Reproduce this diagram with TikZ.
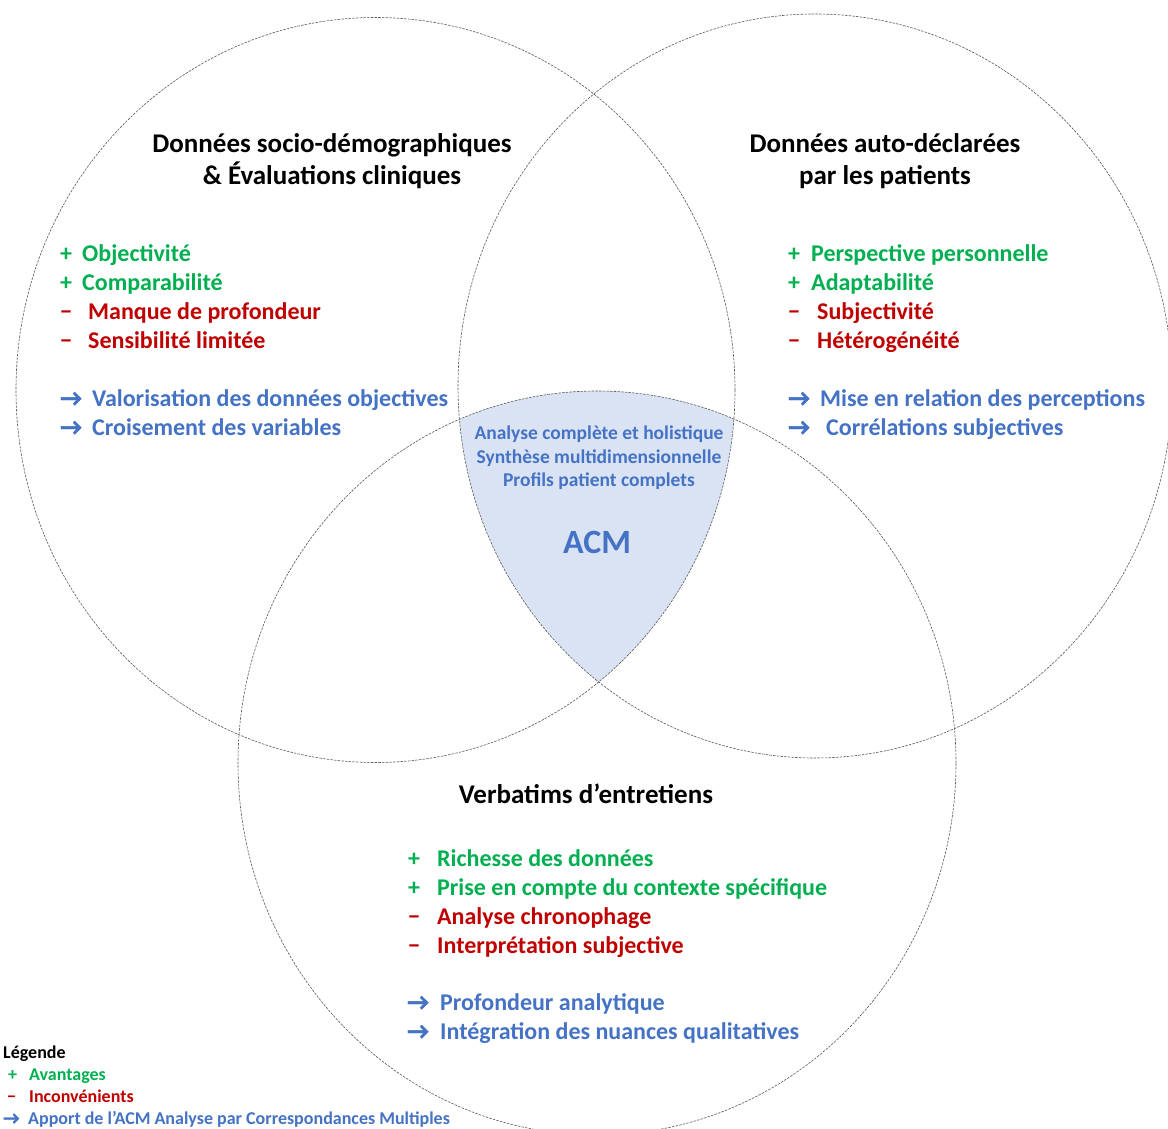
\documentclass[tikz,border=0pt]{standalone}
\usepackage{fontspec}
\setmainfont{Carlito}
\newfontfamily\arrowfont{Carlito}[FakeBold=1.6]
\newcommand{\rarr}{{\arrowfont\bfseries →}}
\newcommand{\mns}{−}
\definecolor{pgreen}{RGB}{0,176,80}
\definecolor{pred}{RGB}{192,0,0}
\definecolor{pblue}{RGB}{68,114,196}
\definecolor{acmfill}{RGB}{218,227,243}
\tikzset{
  ring/.style={draw=black!65, line width=0.6pt, dash pattern=on 2.5pt off 1.2pt},
  head/.style={font=\bfseries\fontsize{27}{32}\selectfont, text=black, anchor=base, inner sep=0pt},
  item/.style={font=\bfseries\fontsize{24}{29}\selectfont, anchor=base west, inner sep=0pt},
  pro/.style={item, text=pgreen},
  con/.style={item, text=pred},
  gain/.style={item, text=pblue},
  ctr/.style={font=\bfseries\fontsize{19.5}{24}\selectfont, text=pblue, anchor=base, inner sep=0pt},
  big/.style={font=\bfseries\fontsize{34}{40}\selectfont, text=pblue, anchor=base, inner sep=0pt},
  leg/.style={font=\bfseries\fontsize{18}{22}\selectfont, anchor=base west, inner sep=0pt},
}
\begin{document}
\begin{tikzpicture}[x=1pt,y=-1pt]
\useasboundingbox (0,0) rectangle (1168,1129);
\fill[white] (0,0) rectangle (1168,1129);
% shaded triple intersection
\begin{scope}
  \clip (375.5,390) ellipse [x radius=359.5pt, y radius=372.5pt];
  \clip (815,386) ellipse [x radius=357pt, y radius=372pt];
  \fill[acmfill] (597,763) ellipse [x radius=359pt, y radius=372pt];
\end{scope}
% ellipses
\draw[ring] (375.5,390) ellipse [x radius=359.5pt, y radius=372.5pt];
\draw[ring] (815,386) ellipse [x radius=357pt, y radius=372pt];
\draw[ring] (597,763) ellipse [x radius=359pt, y radius=372pt];

% left set
\node[head] (lh1) at (332,153) {Données socio-démographiques};
\node[head] (lh2) at (332,185) {\& Évaluations cliniques};
\node[pro] (lp1s) at (60,261) {+};
\node[pro] (lp1) at (82,261) {Objectivité};
\node[pro] (lp2s) at (60,290) {+};
\node[pro] (lp2) at (82,290) {Comparabilité};
\node[con] (lc1s) at (60,319) {\mns};
\node[con] (lc1) at (88,319) {Manque de profondeur};
\node[con] (lc2s) at (60,348) {\mns};
\node[con] (lc2) at (88,348) {Sensibilité limitée};
\node[gain] (la1s) at (60,406) {\rarr};
\node[gain] (la1) at (92,406) {Valorisation des données objectives};
\node[gain] (la2s) at (60,435) {\rarr};
\node[gain] (la2) at (92,435) {Croisement des variables};

% right set
\node[head] (rh1) at (885,153) {Données auto-déclarées};
\node[head] (rh2) at (885,185) {par les patients};
\node[pro] (rp1s) at (788,261) {+};
\node[pro] (rp1) at (811,261) {Perspective personnelle};
\node[pro] (rp2s) at (788,290) {+};
\node[pro] (rp2) at (811,290) {Adaptabilité};
\node[con] (rc1s) at (788,319) {\mns};
\node[con] (rc1) at (817,319) {Subjectivité};
\node[con] (rc2s) at (788,348) {\mns};
\node[con] (rc2) at (817,348) {Hétérogénéité};
\node[gain] (ra1s) at (788,406) {\rarr};
\node[gain] (ra1) at (820,406) {Mise en relation des perceptions};
\node[gain] (ra2s) at (788,435) {\rarr};
\node[gain] (ra2) at (826,435) {Corrélations subjectives};

% centre
\node[ctr] (c1) at (599,439) {Analyse complète et holistique};
\node[ctr] (c2) at (599,463) {Synthèse multidimensionnelle};
\node[ctr] (c3) at (599,486) {Profils patient complets};
\node[big] (acm) at (597,553) {ACM};

% bottom set
\node[head] (bh) at (586,803) {Verbatims d’entretiens};
\node[pro] (bp1s) at (408,866) {+};
\node[pro] (bp1) at (437,866) {Richesse des données};
\node[pro] (bp2s) at (408,895) {+};
\node[pro] (bp2) at (437,895) {Prise en compte du contexte spécifique};
\node[con] (bc1s) at (408,924) {\mns};
\node[con] (bc1) at (437,924) {Analyse chronophage};
\node[con] (bc2s) at (408,953) {\mns};
\node[con] (bc2) at (437,953) {Interprétation subjective};
\node[gain] (ba1s) at (407,1010) {\rarr};
\node[gain] (ba1) at (440,1010) {Profondeur analytique};
\node[gain] (ba2s) at (407,1039) {\rarr};
\node[gain] (ba2) at (440,1039) {Intégration des nuances qualitatives};

% legend
\node[leg, text=black] (lg) at (3,1058) {Légende};
\node[leg, text=pgreen] (lg1s) at (8,1080) {+};
\node[leg, text=pgreen] (lg1) at (29,1080) {Avantages};
\node[leg, text=pred] (lg2s) at (7,1102) {\mns};
\node[leg, text=pred] (lg2) at (29,1102) {Inconvénients};
\node[leg, text=pblue] (lg3s) at (3,1124) {\rarr};
\node[leg, text=pblue] (lg3) at (28,1124) {Apport de l’ACM Analyse par Correspondances Multiples};
\end{tikzpicture}
\end{document}
